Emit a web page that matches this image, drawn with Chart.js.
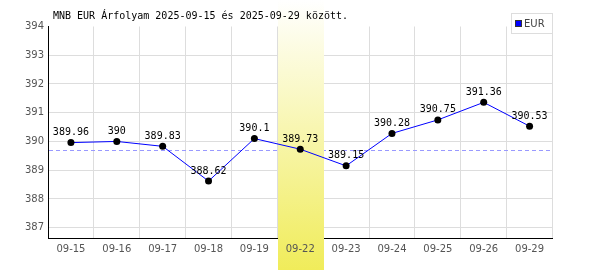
<!DOCTYPE html>
<html>
<head>
<meta charset="utf-8">
<script src="https://cdn.jsdelivr.net/npm/chart.js@4/dist/chart.umd.min.js"></script>
<style>
  html, body { margin: 0; padding: 0; background: #fff; }
  canvas { display: block; }
</style>
</head>
<body>
<canvas id="rateChart" width="600" height="270"></canvas>
<script>
// adatok
const days = ['09-15', '09-16', '09-17', '09-18', '09-19', '09-22', '09-23', '09-24', '09-25', '09-26', '09-29'];
const eurRates = [389.96, 390, 389.83, 388.62, 390.1, 389.73, 389.15, 390.28, 390.75, 391.36, 390.53];
const yTicks = [387, 388, 389, 390, 391, 392, 393, 394];
const refRate = 389.71;
const highlightDay = '09-22';
const titleText = 'MNB EUR Árfolyam 2025-09-15 és 2025-09-29 között.';
const seriesName = 'EUR';

const monoFont = '10px "DejaVu Sans Mono", monospace';

// háttér sáv + szaggatott vonal
const bandPlugin = {
    id: 'band',
    beforeDatasetsDraw(chart) {
        const ctx = chart.ctx;
        const area = chart.chartArea;
        const x = chart.scales.x;
        const y = chart.scales.y;

        // szaggatott referencia vonal
        const ry = Math.round(y.getPixelForValue(refRate)) + 0.5;
        ctx.save();
        ctx.strokeStyle = '#9999ff';
        ctx.lineWidth = 1;
        ctx.setLineDash([4, 3]);
        ctx.beginPath();
        ctx.moveTo(area.left + 1, ry);
        ctx.lineTo(area.right, ry);
        ctx.stroke();
        ctx.restore();

        // kiemelt nap
        const idx = days.indexOf(highlightDay);
        if (idx >= 0) {
            const w = (area.right - area.left) / days.length;
            const cx = x.getPixelForValue(idx);
            const g = ctx.createLinearGradient(0, 0, 0, chart.height);
            g.addColorStop(0, '#ffffff');
            g.addColorStop(1, '#f0ec5a');
            ctx.save();
            ctx.fillStyle = g;
            ctx.fillRect(Math.round(cx - w / 2) + 1, 0, Math.round(w), chart.height);
            ctx.restore();
        }
    },
    afterDatasetsDraw(chart) {
        const ctx = chart.ctx;
        const meta = chart.getDatasetMeta(0);
        ctx.save();
        ctx.font = monoFont;
        ctx.fillStyle = '#000';
        ctx.textAlign = 'center';
        ctx.textBaseline = 'middle';
        meta.data.forEach((pt, i) => {
            ctx.fillText(String(eurRates[i]), pt.x, pt.y - 10);
        });
        ctx.restore();
    },
    afterDraw(chart) {
        const ctx = chart.ctx;
        ctx.save();
        // cím
        ctx.font = monoFont;
        ctx.fillStyle = '#000';
        ctx.textAlign = 'left';
        ctx.textBaseline = 'middle';
        ctx.fillText(titleText, 53, 16);

        // jelmagyarázat
        ctx.fillStyle = '#fff';
        ctx.fillRect(511, 13, 41, 20);
        ctx.strokeStyle = '#dddddd';
        ctx.lineWidth = 1;
        ctx.strokeRect(511.5, 13.5, 41, 20);
        ctx.fillStyle = '#0000ff';
        ctx.fillRect(516, 21, 6, 6);
        ctx.strokeStyle = '#333';
        ctx.strokeRect(515.5, 20.5, 6, 6);
        ctx.font = '10px "DejaVu Sans", sans-serif';
        ctx.fillStyle = '#444';
        ctx.fillText(seriesName, 524, 24);
        ctx.restore();
    }
};

new Chart(document.getElementById('rateChart'), {
    type: 'line',
    data: {
        labels: days,
        datasets: [{
            label: seriesName,
            data: eurRates,
            borderColor: '#0000ff',
            borderWidth: 1,
            pointBackgroundColor: '#000',
            pointBorderWidth: 0,
            pointRadius: 3.5,
            tension: 0,
            fill: false
        }]
    },
    options: {
        responsive: false,
        animation: false,
        devicePixelRatio: 1,
        layout: { padding: { top: 26.5, right: 47.5, left: 0, bottom: 0 } },
        plugins: {
            legend: { display: false },
            tooltip: { enabled: false },
            title: { display: false }
        },
        scales: {
            x: {
                offset: true,
                grid: { offset: true, color: '#dddddd', drawTicks: false },
                border: { color: '#000', width: 1 },
                ticks: {
                    z: 1,
                    padding: 5,
                    color: '#555',
                    font: { family: '"DejaVu Sans", sans-serif', size: 10 },
                    maxRotation: 0,
                    autoSkip: false
                },
                afterFit(scale) { scale.height = 32; }
            },
            y: {
                min: 386.64,
                max: 394,
                grid: {
                    drawTicks: false,
                    color: (c) => (c.tick && c.tick.value === 394 ? 'rgba(0,0,0,0)' : '#dddddd')
                },
                border: { color: '#000', width: 1 },
                ticks: {
                    padding: 4,
                    color: '#555',
                    font: { family: '"DejaVu Sans", sans-serif', size: 10 }
                },
                afterBuildTicks(scale) { scale.ticks = yTicks.map(v => ({ value: v })); },
                afterFit(scale) { scale.width = 48; }
            }
        }
    },
    plugins: [bandPlugin]
});
</script>
</body>
</html>
